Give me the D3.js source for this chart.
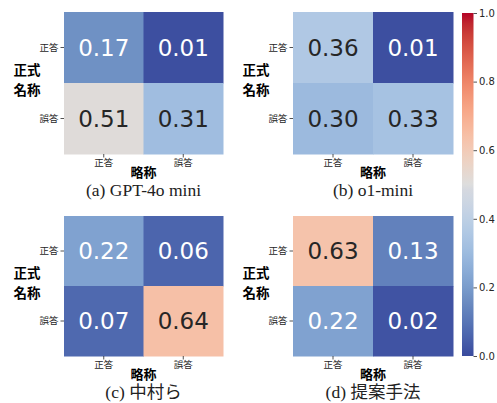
<!DOCTYPE html>
<html><head><meta charset="utf-8">
<script src="https://cdn.jsdelivr.net/npm/d3@7"></script>
<style>body{margin:0;background:#fff}svg{display:block}</style>
</head><body>
<svg id="c" width="497" height="403"></svg>
<script>
// ---- data ----
const rowLabels = ["正答", "誤答"];
const colLabels = ["正答", "誤答"];
const captions = ["(a) GPT-4o mini", "(b) o1-mini", "(c) 中村ら", "(d) 提案手法"];
const valuesA = [[0.17, 0.01], [0.51, 0.31]];
const valuesB = [[0.36, 0.01], [0.30, 0.33]];
const valuesC = [[0.22, 0.06], [0.07, 0.64]];
const valuesD = [[0.63, 0.13], [0.22, 0.02]];
const cbTicks = [0.0, 0.2, 0.4, 0.6, 0.8, 1.0];
const yTitle = ["正式", "名称"];
const xTitle = "略称";

// ---- coolwarm colormap ----
const cwR=[0.2298057,0.26623388,0.30386891,0.342804478,0.38301334,0.424369608,0.46666708,0.509635204,0.552953156,0.596262162,0.639176211,0.681291281,0.722193294,0.761464949,0.798691636,0.833466556,0.865395197,0.897787179,0.924127593,0.944468518,0.958852946,0.96732803,0.969954137,0.966811177,0.958003065,0.943660866,0.923944917,0.89904617,0.869186849,0.834620542,0.795631745,0.752534934,0.705673158];
const cwG=[0.298717966,0.353094838,0.406535296,0.458757618,0.50941904,0.558148092,0.604562568,0.648280772,0.688929332,0.726149107,0.759599947,0.788964712,0.813952739,0.834302879,0.849786142,0.860207984,0.86541021,0.848937047,0.827384882,0.800927443,0.769767752,0.734132809,0.694266682,0.650421156,0.602842431,0.551750968,0.49730856,0.439559467,0.378313092,0.312874446,0.24128379,0.157246067,0.01555616];
const cwB=[0.753683153,0.801466763,0.84495867,0.883725899,0.917387822,0.945619588,0.968154911,0.98478814,0.995375608,0.999836203,0.998151185,0.990363227,0.976574709,0.956945269,0.931688648,0.901068838,0.865395561,0.820880546,0.774508472,0.726736146,0.678007945,0.628751763,0.579375448,0.530263762,0.481775914,0.434243684,0.387970225,0.343229596,0.300267182,0.259301199,0.220525627,0.184115123,0.150232812];
function cw(t){
  t=Math.max(0,Math.min(1,t));
  const p=t*32, i=Math.min(31,Math.floor(p)), f=p-i;
  return [cwR[i]+(cwR[i+1]-cwR[i])*f, cwG[i]+(cwG[i+1]-cwG[i])*f, cwB[i]+(cwB[i+1]-cwB[i])*f];
}
// printed look: blue channel toned down
function shown(t){
  let [r,g,b]=cw(t).map(v=>v*255);
  const m=Math.max(r,g);
  if(b>m){const k=0.7-0.2*Math.min(1,t/0.17); b=m+k*(b-m); r*=0.985; g*=0.98;}
  return d3.rgb(r,g,b);
}
const color = d3.scaleSequential(t=>shown(t).toString()).domain([0,1]);
function lum(t){
  const lin=c=>c<=0.03928?c/12.92:Math.pow((c+0.055)/1.055,2.4);
  const [r,g,b]=cw(t);
  return 0.2126*lin(r)+0.7152*lin(g)+0.0722*lin(b);
}

const svg=d3.select("#c");
const panels=[
  {v:valuesA,x0:64,x1:223,y0:12,y1:154,cap:captions[0]},
  {v:valuesB,x0:293,x1:453,y0:12,y1:154,cap:captions[1]},
  {v:valuesC,x0:64,x1:223,y0:216,y1:356,cap:captions[2]},
  {v:valuesD,x0:293,x1:453,y0:216,y1:356,cap:captions[3]},
];
const jp='"Noto Sans CJK JP", sans-serif';
panels.forEach(p=>{
  const x=d3.scaleBand().domain(colLabels.map((d,i)=>i)).range([p.x0,p.x1]);
  const y=d3.scaleBand().domain(rowLabels.map((d,i)=>i)).range([p.y0,p.y1]);
  const g=svg.append("g");
  const cells=[];
  p.v.forEach((row,ri)=>row.forEach((val,ci)=>cells.push({ri,ci,val})));
  g.selectAll("rect").data(cells).join("rect")
    .attr("x",d=>x(d.ci)).attr("y",d=>y(d.ri))
    .attr("width",x.bandwidth()+0.5).attr("height",y.bandwidth()+0.5)
    .attr("fill",d=>color(d.val));
  g.selectAll("text.v").data(cells).join("text").attr("class","v")
    .attr("x",d=>x(d.ci)+x.bandwidth()/2).attr("y",d=>y(d.ri)+y.bandwidth()/2)
    .attr("text-anchor","middle").attr("dominant-baseline","central")
    .attr("font-family","DejaVu Sans").attr("font-size",23)
    .attr("fill",d=>lum(d.val)>0.408?"#262626":"#ffffff")
    .text(d=>d.val.toFixed(2));
  const ya=g.append("g").attr("transform",`translate(${p.x0},0)`)
    .call(d3.axisLeft(y).tickFormat(i=>rowLabels[i]).tickSize(3.5).tickPadding(2));
  ya.select(".domain").remove();
  ya.selectAll("text").attr("font-family",jp).attr("font-size",9.5).attr("fill","#262626");
  ya.selectAll("line").attr("stroke","#262626").attr("stroke-width",0.8);
  const xa=g.append("g").attr("transform",`translate(0,${p.y1})`)
    .call(d3.axisBottom(x).tickFormat(i=>colLabels[i]).tickSize(3.5).tickPadding(1.5));
  xa.select(".domain").remove();
  xa.selectAll("text").attr("font-family",jp).attr("font-size",9.5).attr("fill","#262626");
  xa.selectAll("line").attr("stroke","#262626").attr("stroke-width",0.8);
  const cx=(p.x0+p.x1)/2, cy=(p.y0+p.y1)/2;
  g.append("text").attr("x",cx).attr("y",p.y1+17).attr("text-anchor","middle")
    .attr("dominant-baseline","central").attr("font-family",jp).attr("font-weight","bold")
    .attr("font-size",13).attr("fill","#000").text(xTitle);
  yTitle.forEach((t,i)=>{
    g.append("text").attr("x",p.x0-37).attr("y",cy-14+i*19.5).attr("text-anchor","middle")
      .attr("dominant-baseline","central").attr("font-family",jp).attr("font-weight","bold")
      .attr("font-size",13.5).attr("fill","#000").text(t);
  });
  g.append("text").attr("x",cx).attr("y",p.y1+35.5).attr("text-anchor","middle")
    .attr("dominant-baseline","central").attr("font-family",'"Liberation Serif", "Noto Sans CJK JP", serif')
    .attr("font-size",17.5).attr("fill","#222").text(p.cap);
});

// colorbar
const cbX=462, cbW=11.5, cbY0=13, cbY1=356;
const defs=svg.append("defs");
const grad=defs.append("linearGradient").attr("id","cg").attr("x1",0).attr("x2",0).attr("y1",1).attr("y2",0);
d3.range(0,1.0001,1/64).forEach(t=>grad.append("stop").attr("offset",t).attr("stop-color",color(t)));
svg.append("rect").attr("x",cbX).attr("y",cbY0).attr("width",cbW).attr("height",cbY1-cbY0).attr("fill","url(#cg)");
const cyS=d3.scaleLinear().domain([0,1]).range([cbY1,cbY0]);
const ca=svg.append("g").attr("transform",`translate(${cbX+cbW},0)`)
  .call(d3.axisRight(cyS).tickValues(cbTicks).tickFormat(d3.format(".1f")).tickSize(3.5).tickPadding(2));
ca.select(".domain").remove();
ca.selectAll("text").attr("font-family","DejaVu Sans").attr("font-size",10).attr("fill","#262626");
ca.selectAll("line").attr("stroke","#262626").attr("stroke-width",0.8);
</script>
</body></html>
